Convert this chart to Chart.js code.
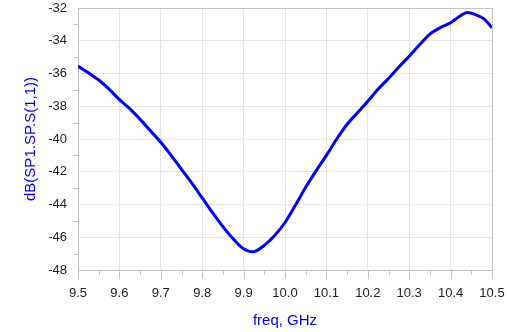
<!DOCTYPE html>
<html>
<head>
<meta charset="utf-8">
<script src="https://cdn.jsdelivr.net/npm/chart.js@4.4.1/dist/chart.umd.min.js"></script>
<style>
    html, body { margin: 0; padding: 0; background: #fff; }
</style>
</head>
<body>
<canvas id="s11_chart" width="510" height="332"></canvas>
<script>
// frequency (GHz) and return loss
var arrFreq = [9.5, 9.525, 9.55, 9.575, 9.6, 9.625, 9.65, 9.675, 9.7, 9.725, 9.75, 9.775, 9.8, 9.825,
    9.85, 9.875, 9.9, 9.925, 9.95, 9.975, 10.0, 10.025, 10.05, 10.075, 10.1, 10.125, 10.15, 10.175,
    10.2, 10.225, 10.25, 10.275, 10.3, 10.325, 10.35, 10.375, 10.4, 10.425, 10.44, 10.46, 10.48, 10.5];
var arrS11 = [-35.55, -35.95, -36.4, -36.95, -37.6, -38.15, -38.8, -39.5, -40.2, -41.0, -41.85, -42.7, -43.6, -44.5,
    -45.35, -46.1, -46.7, -46.88, -46.5, -45.9, -45.1, -44.05, -42.95, -41.95, -41.0, -40.0, -39.1, -38.4,
    -37.7, -36.95, -36.3, -35.6, -34.95, -34.25, -33.6, -33.2, -32.9, -32.45, -32.27, -32.4, -32.65, -33.2];

var arrXTicks = [9.5, 9.6, 9.7, 9.8, 9.9, 10.0, 10.1, 10.2, 10.3, 10.4, 10.5];
var arrXMinor = [9.55, 9.65, 9.75, 9.85, 9.95, 10.05, 10.15, 10.25, 10.35, 10.45];
var arrYTicks = [-48, -46, -44, -42, -40, -38, -36, -34, -32];
var arrYMinor = [-47, -45, -43, -41, -39, -37, -35, -33];

var strFont = '"Liberation Sans", Arial, sans-serif';
var strGrid = '#e4e4e4';
var strBorder = '#c4c4c4';

// short tick marks outside the plot, drawn through the scales
var objTickMarks = {
    id: 'tickMarks',
    afterDraw: function (chart) {
        const ctx = chart.ctx;
        const xScale = chart.scales.x;
        const yScale = chart.scales.y;
        const area = chart.chartArea;
        ctx.save();
        ctx.strokeStyle = strBorder;
        ctx.lineWidth = 1;
        ctx.beginPath();
        arrXTicks.forEach(function (v) {
            const px = Math.round(xScale.getPixelForValue(v)) + 0.5;
            ctx.moveTo(px, area.bottom);
            ctx.lineTo(px, area.bottom + 9);
        });
        arrXMinor.forEach(function (v) {
            const px = Math.round(xScale.getPixelForValue(v)) + 0.5;
            ctx.moveTo(px, area.bottom);
            ctx.lineTo(px, area.bottom + 5);
        });
        arrYMinor.forEach(function (v) {
            const py = Math.round(yScale.getPixelForValue(v)) + 0.5;
            ctx.moveTo(area.left - 5, py);
            ctx.lineTo(area.left, py);
        });
        ctx.stroke();
        ctx.restore();
    }
};

new Chart(document.getElementById('s11_chart').getContext('2d'), {
    type: 'line',
    data: {
        datasets: [{
            label: 'dB(SP1.SP.S(1,1))',
            data: arrFreq.map((f, i) => ({ x: f, y: arrS11[i] })),
            borderColor: '#0000ff',
            borderWidth: 3,
            pointRadius: 0,
            tension: 0.3,
            fill: false
        }]
    },
    options: {
        responsive: false,
        animation: false,
        layout: {
            padding: 0
        },
        plugins: {
            legend: { display: false },
            tooltip: { enabled: false }
        },
        scales: {
            x: {
                type: 'linear',
                min: 9.5,
                max: 10.5,
                afterBuildTicks: function (scale) {
                    scale.ticks = arrXTicks.map(v => ({ value: v }));
                },
                afterFit: function (scale) {
                    scale.height = 62;
                    scale.paddingLeft = 0;
                    scale.paddingRight = 18;
                },
                grid: {
                    drawTicks: false,
                    color: ctx => (ctx.index === arrXTicks.length - 1 ? strBorder : strGrid)
                },
                border: { color: strBorder },
                ticks: {
                    padding: 16,
                    maxRotation: 0,
                    color: '#222',
                    font: { family: strFont, size: 13 },
                    callback: value => value.toFixed(1)
                },
                title: {
                    display: true,
                    text: 'freq, GHz',
                    color: '#0000ff',
                    font: { family: strFont, size: 15 },
                    padding: { top: 4, bottom: 2 }
                }
            },
            y: {
                min: -48,
                max: -32,
                afterBuildTicks: function (scale) {
                    scale.ticks = arrYTicks.map(v => ({ value: v }));
                },
                afterFit: function (scale) {
                    scale.width = 78;
                    scale.paddingTop = 8;
                    scale.paddingBottom = 0;
                },
                grid: {
                    drawTicks: false,
                    color: ctx => (ctx.index === arrYTicks.length - 1 ? strBorder : strGrid)
                },
                border: { color: strBorder },
                ticks: {
                    padding: 11,
                    color: '#222',
                    font: { family: strFont, size: 13 },
                    callback: value => String(value)
                },
                title: {
                    display: true,
                    text: 'dB(SP1.SP.S(1,1))',
                    color: '#0000ff',
                    font: { family: strFont, size: 15 },
                    padding: { top: 22, bottom: 0 }
                }
            }
        }
    },
    plugins: [objTickMarks]
});
</script>
</body>
</html>
